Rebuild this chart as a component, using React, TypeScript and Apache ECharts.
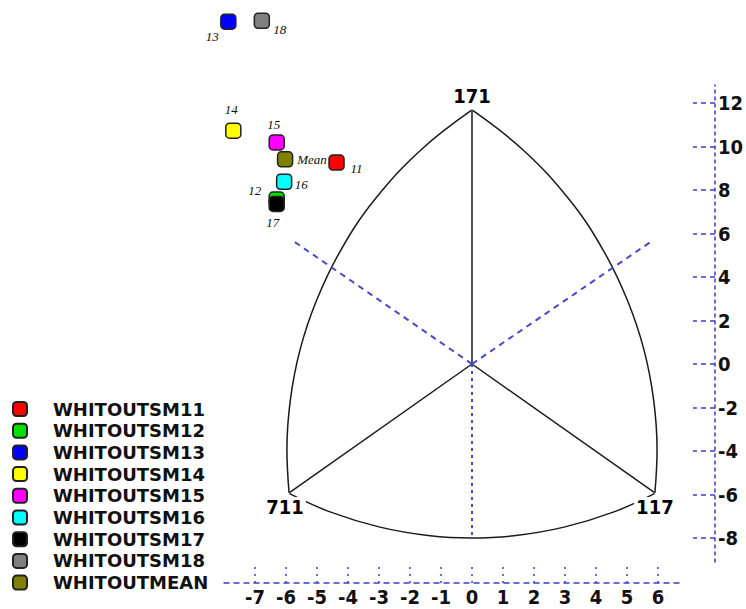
import React, { useEffect, useRef } from 'react';
import * as echarts from 'echarts';

// ---- data ----
const seriesNames = [
  'WHITOUTSM11', 'WHITOUTSM12', 'WHITOUTSM13', 'WHITOUTSM14', 'WHITOUTSM15',
  'WHITOUTSM16', 'WHITOUTSM17', 'WHITOUTSM18', 'WHITOUTMEAN',
];
const pointLabels = ['11', '12', '13', '14', '15', '16', '17', '18', 'Mean'];
const pointX = [-4.37, -6.3, -7.86, -7.7, -6.3, -6.06, -6.3, -6.78, -6.03];
const pointY = [9.26, 7.56, 15.74, 10.73, 10.19, 8.38, 7.36, 15.78, 9.41];

const xTickValues = [-7, -6, -5, -4, -3, -2, -1, 0, 1, 2, 3, 4, 5, 6];
const yTickValues = [-8, -6, -4, -2, 0, 2, 4, 6, 8, 10, 12];

const vertexLabels = ['171', '711', '117'];
const vertexX = [0, -5.9, 5.9];
const vertexY = [11.68, -5.93, -5.93];
const centerX = 0;
const centerY = 0;

// outward dashed guide lines (end points)
const guideX = [-5.81, 5.81, 0];
const guideY = [5.7, 5.66, -8.0];

// curved sides
const leftArcX = [0, -1.65, -3.15, -4.23, -5.01, -5.55, -5.86, -5.97, -5.9];
const leftArcY = [11.68, 9.84, 7.54, 5.24, 2.94, 0.64, -1.66, -3.95, -5.93];
const rightArcX = [0, 1.65, 3.15, 4.23, 5.01, 5.55, 5.86, 5.97, 5.9];
const rightArcY = [11.68, 9.84, 7.54, 5.24, 2.94, 0.64, -1.66, -3.95, -5.93];
const bottomArcX = [-5.9, -4.58, -2.97, -1.35, 0, 1.35, 2.97, 4.58, 5.9];
const bottomArcY = [-5.95, -6.8, -7.5, -7.9, -8.0, -7.9, -7.5, -6.8, -5.95];

// ---- styles ----
const pointColors = ['#ff0000', '#00e000', '#0000ff', '#ffff00', '#ff00ff', '#00ffff', '#000000', '#808080', '#808000'];
const labelOffsets: [number, number][] = [
  [20, 6], [-22, -9], [-16, 15], [-2, -21], [-3, -18], [17, 3], [-4, 19], [18, 9], [27, 0],
];
const vertexLabelOffsets: [number, number][] = [[0, -14], [-4, 14], [0, 14]];
const axisBlue = '#3c3cc8';
const numFont = "'Liberation Sans Narrow', 'DejaVu Sans Condensed', 'Arial Narrow', sans-serif";

const zip = (xs: number[], ys: number[]) => xs.map((x, i) => [x, ys[i]]);

export default function App() {
  const ref = useRef<HTMLDivElement>(null);
  useEffect(() => {
    document.body.style.margin = '0';
    if (!ref.current) return;
    const chart = echarts.init(ref.current, undefined, { renderer: 'svg' });

    const lineBase = {
      type: 'line' as const,
      xAxisIndex: 2,
      yAxisIndex: 2,
      symbol: 'none',
      silent: true,
      z: 2,
    };

    const series: any[] = [];
    // curved sides
    [[leftArcX, leftArcY], [rightArcX, rightArcY], [bottomArcX, bottomArcY]].forEach(([xs, ys]) => {
      series.push({
        ...lineBase,
        smooth: 0.4,
        data: zip(xs, ys),
        lineStyle: { color: '#1a1a1a', width: 1.5 },
      });
    });
    // spokes center->vertices
    vertexX.forEach((vx, i) => {
      series.push({
        ...lineBase,
        data: [[centerX, centerY], [vx, vertexY[i]]],
        lineStyle: { color: '#1a1a1a', width: 1.5 },
      });
    });
    // dashed guides
    guideX.forEach((gx, i) => {
      series.push({
        ...lineBase,
        data: [[centerX, centerY], [gx, guideY[i]]],
        lineStyle: { color: '#4848cc', width: 2, type: i === 2 ? [3, 4] : [6, 5] },
      });
    });
    // vertex labels
    series.push({
      type: 'scatter',
      xAxisIndex: 2,
      yAxisIndex: 2,
      symbol: 'circle',
      symbolSize: 1,
      itemStyle: { color: '#ffffff', opacity: 1 },
      silent: true,
      clip: false,
      z: 5,
      data: vertexX.map((vx, i) => ({
        value: [vx, vertexY[i]],
        name: vertexLabels[i],
        label: { offset: vertexLabelOffsets[i] },
      })),
      label: {
        show: true,
        position: 'inside',
        formatter: (p: any) => p.name,
        fontFamily: numFont,
        fontWeight: 'bold',
        fontSize: 20,
        color: '#000000',
        opacity: 1,
        textBorderWidth: 0,
        backgroundColor: '#fff',
        padding: [0, 2],
      },
    });
    // points
    seriesNames.forEach((name, i) => {
      series.push({
        type: 'scatter',
        name,
        xAxisIndex: 2,
        yAxisIndex: 2,
        clip: false,
        symbol: 'roundRect',
        symbolSize: 15,
        z: 10,
        itemStyle: { color: pointColors[i], borderColor: '#222', borderWidth: 1.5, opacity: 1 },
        data: [[pointX[i], pointY[i]]],
        label: {
          show: true,
          position: 'inside',
          offset: labelOffsets[i],
          formatter: pointLabels[i],
          fontFamily: "'Liberation Serif', 'DejaVu Serif', serif",
          fontStyle: 'italic',
          fontSize: 13,
          color: '#111',
          textBorderWidth: 0,
        },
      });
    });

    chart.setOption({
      animation: false,
      backgroundColor: '#ffffff',
      legend: {
        data: seriesNames,
        orient: 'vertical',
        left: 12,
        top: 400,
        height: 205,
        padding: 0,
        itemWidth: 14,
        itemHeight: 14,
        itemGap: 3.7,
        icon: 'roundRect',
        selectedMode: false,
        textStyle: {
          fontFamily: "'DejaVu Sans', sans-serif",
          fontWeight: 'bold',
          fontSize: 18,
          color: '#111',
          padding: [0, 0, 0, 21],
        },
      },
      grid: [
        // visible x axis
        { left: 224, width: 458.8, bottom: 26, height: 400 },
        // visible y axis
        { right: 27, top: 85, height: 477, width: 400 },
        // data grid covering the whole canvas
        { left: 0, top: 0, width: 746, height: 609 },
      ],
      xAxis: [
        {
          gridIndex: 0,
          type: 'value',
          min: -8,
          max: 6.8,
          interval: 1,
          position: 'bottom',
          splitLine: { show: false },
          axisLine: { show: true, onZero: false, lineStyle: { color: axisBlue, width: 1.5, type: [5, 5] } },
          axisTick: {
            show: true,
            inside: true,
            length: 21,
            customValues: xTickValues,
            lineStyle: { color: axisBlue, width: 1.5, type: [2, 5] },
          },
          axisLabel: {
            show: true,
            customValues: xTickValues,
            margin: 4,
            fontFamily: numFont,
            fontWeight: 'bold',
            fontSize: 20,
            color: '#111',
          },
        },
        { gridIndex: 1, type: 'value', show: false, min: 0, max: 1 },
        { gridIndex: 2, type: 'value', show: false, min: -15.226, max: 8.839 },
      ],
      yAxis: [
        { gridIndex: 0, type: 'value', show: false, min: 0, max: 1 },
        {
          gridIndex: 1,
          type: 'value',
          min: -9.103,
          max: 12.828,
          position: 'right',
          splitLine: { show: false },
          axisLine: { show: true, onZero: false, lineStyle: { color: axisBlue, width: 1.5, type: [3, 4] } },
          axisTick: {
            show: true,
            inside: true,
            length: 22,
            customValues: yTickValues,
            lineStyle: { color: axisBlue, width: 1.5, type: [5, 4] },
          },
          axisLabel: {
            show: true,
            customValues: yTickValues,
            margin: 3,
            padding: [0, 0, 10, 0],
            fontFamily: numFont,
            fontWeight: 'bold',
            fontSize: 20,
            color: '#111',
          },
        },
        { gridIndex: 2, type: 'value', show: false, min: -11.264, max: 16.736 },
      ],
      series,
    });

    return () => chart.dispose();
  }, []);

  return <div ref={ref} style={{ width: 746, height: 609 }} />;
}
